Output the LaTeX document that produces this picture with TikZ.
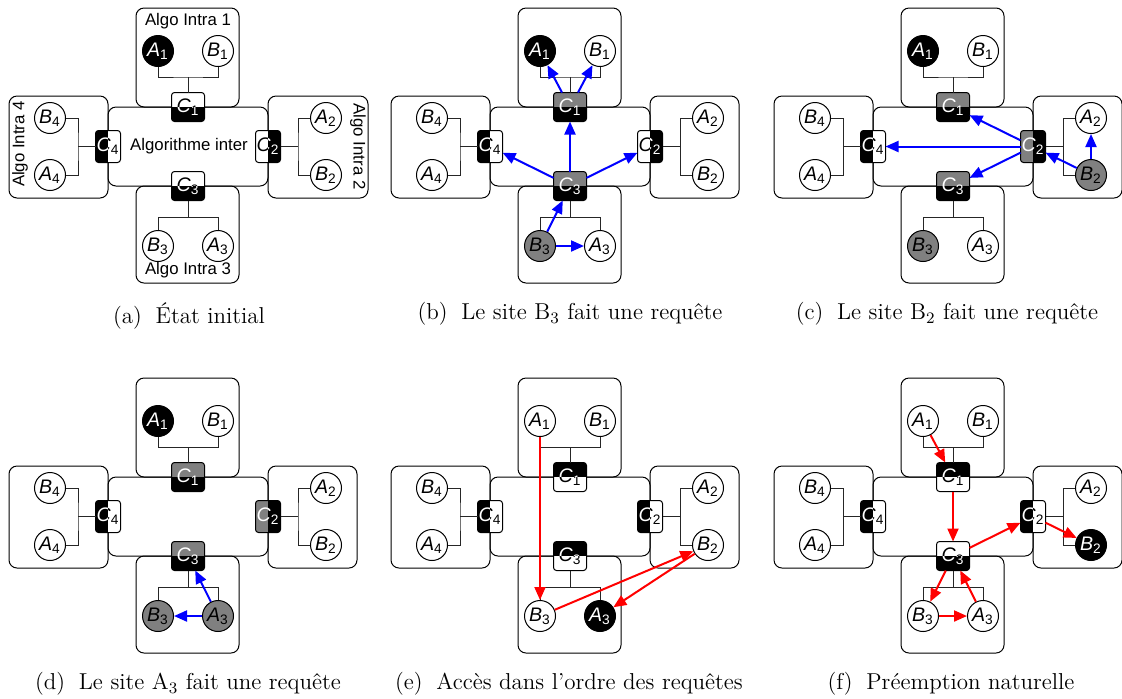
\documentclass[tikz,border=0pt]{standalone}
\usepackage{fontspec}
\newfontfamily\hv{Liberation Sans}
\usetikzlibrary{arrows.meta}
\newcommand\slab[2]{\textit{#1}\textsubscript{#2}}
\tikzset{
 box/.style={draw, line width=0.5pt, rounded corners=4pt},
 site/.style={circle, draw, line width=0.5pt, minimum size=15.5pt, inner sep=0pt, font=\hv\fontsize{9.8}{11}\selectfont},
 sw/.style={site, fill=white, text=black},
 sb/.style={site, fill=black, text=white},
 sg/.style={site, fill=black!50, text=black},
 wire/.style={line width=0.5pt, draw=black!85},
 cv/.style={rectangle, minimum width=16.5pt, minimum height=14.5pt, inner sep=0pt, outer sep=0pt},
 ch/.style={rectangle, minimum width=12.5pt, minimum height=16pt, inner sep=0pt, outer sep=0pt},
 ctext/.style={inner sep=0pt, font=\hv\fontsize{9.8}{11}\selectfont},
 cframe/.style={draw, line width=0.5pt, rounded corners=1.5pt},
 lab/.style={font=\hv\fontsize{8.4}{10}\selectfont, inner sep=0pt},
 blu/.style={draw=blue, line width=1pt, -{Triangle[length=6.5pt,width=5.5pt]}},
 rd/.style={draw=red, line width=1pt, -{Triangle[length=6.5pt,width=5.5pt]}},
 capt/.style={font=\fontsize{11.5}{13}\selectfont, inner sep=0pt},
}
% skeleton: prefix, styles of A1 B1 A2 B2 A3 B3 A4 B4
\newcommand\skel[9]{%
 \draw[box] (108,107) rectangle (268,186);
 \draw[box] (136,8) rectangle (239,107);
 \draw[box] (136,186) rectangle (239,283);
 \draw[box] (9,96) rectangle (108,198);
 \draw[box] (268,96) rectangle (\irr,198);
 \node[#2] (#1A1) at (158,51) {\slab{A}{1}};
 \node[#3] (#1B1) at (218,51) {\slab{B}{1}};
 \node[#4] (#1A2) at (326,118) {\slab{A}{2}};
 \node[#5] (#1B2) at (326,175) {\slab{B}{2}};
 \node[#6] (#1A3) at (218,246) {\slab{A}{3}};
 \node[#7] (#1B3) at (158,246) {\slab{B}{3}};
 \node[#8] (#1A4) at (50,175) {\slab{A}{4}};
 \node[#9] (#1B4) at (50,118) {\slab{B}{4}};
 \coordinate (#1j1) at (188,77);
 \coordinate (#1j2) at (298,146.5);
 \coordinate (#1j3) at (188,217);
 \coordinate (#1j4) at (78,146.5);
 \draw[wire] (#1A1.south) |- (#1j1) -| (#1B1.south);
 \draw[wire] (#1A2.west) -| (#1j2) |- (#1B2.west);
 \draw[wire] (#1B3.north) |- (#1j3) -| (#1A3.north);
 \draw[wire] (#1B4.east) -| (#1j4) |- (#1A4.east);
}
\newcommand\links[1]{%
 \draw[wire] (#1j1) -- (#1C1.north);
 \draw[wire] (#1j2) -- (#1C2.east);
 \draw[wire] (#1j3) -- (#1C3.south);
 \draw[wire] (#1j4) -- (#1C4.west);
}
% name, pos, fill top, text top, fill bottom, text bottom, digit
\newcommand\cboxv[7]{%
 \node[cv] (#1) at #2 {};
 \begin{scope}
  \clip (#1.north west) rectangle (#1.east);
  \fill[#3, rounded corners=1.5pt] (#1.north west) rectangle (#1.south east);
  \node[ctext, text=#4] (#1t) at (#1.center) {\slab{C}{#7}};
 \end{scope}
 \begin{scope}
  \clip (#1.west) rectangle (#1.south east);
  \fill[#5, rounded corners=1.5pt] (#1.north west) rectangle (#1.south east);
  \node[ctext, text=#6] (#1u) at (#1.center) {\slab{C}{#7}};
 \end{scope}
 \draw[cframe] (#1.north west) rectangle (#1.south east);
}
% name, pos, fill left, text left, fill right, text right, digit
\newcommand\cboxh[7]{%
 \node[ch] (#1) at #2 {};
 \begin{scope}
  \clip (#1.north west) rectangle (#1.south);
  \fill[#3, rounded corners=1.5pt] (#1.north west) rectangle (#1.south east);
  \node[ctext, text=#4] (#1t) at (#1.center) {\slab{C}{#7}};
 \end{scope}
 \begin{scope}
  \clip (#1.north) rectangle (#1.south east);
  \fill[#5, rounded corners=1.5pt] (#1.north west) rectangle (#1.south east);
  \node[ctext, text=#6] (#1u) at (#1.center) {\slab{C}{#7}};
 \end{scope}
 \draw[cframe] (#1.north west) rectangle (#1.south east);
}
\begin{document}
\begin{tikzpicture}[x=0.5pt,y=-0.5pt]
\useasboundingbox (0,0) rectangle (1122,698);
% ---------- (a)
\def\irr{368}
\begin{scope}
 \skel{a}{sb}{sw}{sw}{sw}{sw}{sw}{sw}{sw}
 \cboxv{aC1}{(188,107)}{white}{black}{black}{white}{1}
 \cboxh{aC2}{(268,146.5)}{white}{black}{black}{white}{2}
 \cboxv{aC3}{(188,186)}{white}{black}{black}{white}{3}
 \cboxh{aC4}{(108,146.5)}{black}{white}{white}{black}{4}
 \links{a}
 \node[lab] (lab1) at (188,21) {Algo Intra 1};
 \node[lab, rotate=-90] (lab2) at (358,146.5) {Algo Intra 2};
 \node[lab] (lab3) at (188,270) {Algo Intra 3};
 \node[lab, rotate=90] (lab4) at (20,144) {Algo Intra 4};
 \node[lab] (labI) at (189,146.5) {Algorithme inter};
\end{scope}
\def\irr{357}
% ---------- (b)
\begin{scope}[shift={(382,0)}]
 \skel{b}{sb}{sw}{sw}{sw}{sw}{sg}{sw}{sw}
 \cboxv{bC1}{(188,107)}{black!50}{white}{black}{white}{1}
 \cboxh{bC2}{(268,146.5)}{white}{black}{black}{white}{2}
 \cboxv{bC3}{(188,186)}{black!50}{white}{black}{white}{3}
 \cboxh{bC4}{(108,146.5)}{black}{white}{white}{black}{4}
 \links{b}
 \draw[blu] ([xshift=-4pt]bC1.north) -- (bA1);
 \draw[blu] ([xshift=4pt]bC1.north) -- (bB1);
 \draw[blu] (bC3) -- (bC1);
 \draw[blu] (bC3) -- (bC4);
 \draw[blu] (bC3) -- (bC2);
 \draw[blu] (bB3) -- (bC3);
 \draw[blu] (bB3) -- (bA3);
\end{scope}
% ---------- (c)
\begin{scope}[shift={(765,0)}]
 \skel{c}{sb}{sw}{sw}{sg}{sw}{sg}{sw}{sw}
 \cboxv{cC1}{(188,107)}{black!50}{white}{black}{white}{1}
 \cboxh{cC2}{(268,146.5)}{black!50}{white}{black}{white}{2}
 \cboxv{cC3}{(188,186)}{black!50}{white}{black}{white}{3}
 \cboxh{cC4}{(108,146.5)}{black}{white}{white}{black}{4}
 \links{c}
 \draw[blu] (cB2) -- (cC2);
 \draw[blu] (cB2) -- (cA2);
 \draw[blu] (cC2) -- (cC1);
 \draw[blu] (cC2) -- (cC4);
 \draw[blu] (cC2) -- (cC3);
\end{scope}
% ---------- (d)
\begin{scope}[shift={(0,370)}]
 \skel{d}{sb}{sw}{sw}{sw}{sg}{sg}{sw}{sw}
 \cboxv{dC1}{(188,107)}{black!50}{white}{black}{white}{1}
 \cboxh{dC2}{(268,146.5)}{black!50}{white}{black}{white}{2}
 \cboxv{dC3}{(188,186)}{black!50}{white}{black}{white}{3}
 \cboxh{dC4}{(108,146.5)}{black}{white}{white}{black}{4}
 \links{d}
 \draw[blu] (dA3) -- (dC3);
 \draw[blu] (dA3) -- (dB3);
\end{scope}
% ---------- (e)
\begin{scope}[shift={(382,370)}]
 \skel{e}{sw}{sw}{sw}{sw}{sb}{sw}{sw}{sw}
 \cboxv{eC1}{(188,107)}{black}{white}{white}{black}{1}
 \cboxh{eC2}{(268,146.5)}{black}{white}{white}{black}{2}
 \cboxv{eC3}{(188,186)}{black}{white}{white}{black}{3}
 \cboxh{eC4}{(108,146.5)}{black}{white}{white}{black}{4}
 \links{e}
 \draw[rd] (eA1) -- (eB3);
 \draw[rd] (eB3) -- (eB2);
 \draw[rd] (eB2) -- (eA3);
\end{scope}
% ---------- (f)
\begin{scope}[shift={(765,370)}]
 \skel{f}{sw}{sw}{sw}{sb}{sw}{sw}{sw}{sw}
 \cboxv{fC1}{(188,107)}{black}{white}{white}{black}{1}
 \cboxh{fC2}{(268,146.5)}{black}{white}{white}{black}{2}
 \cboxv{fC3}{(188,186)}{white}{black}{black}{white}{3}
 \cboxh{fC4}{(108,146.5)}{black}{white}{white}{black}{4}
 \links{f}
 \draw[rd] (fA1) -- (fC1);
 \draw[rd] (fC1) -- (fC3);
 \draw[rd] (fC3) -- (fC2);
 \draw[rd] (fC2) -- (fB2);
 \draw[rd] (fC3) -- (fB3);
 \draw[rd] (fA3) -- (fC3);
 \draw[rd] (fB3) -- (fA3);
\end{scope}
% ---------- captions
\node[capt] (capa) at (189,316) {(a)\hspace{0.6em}État initial};
\node[capt] (capb) at (570,314) {(b)\hspace{0.6em}Le site B$_3$ fait une requête};
\node[capt] (capc) at (947,314) {(c)\hspace{0.6em}Le site B$_2$ fait une requête};
\node[capt] (capd) at (188,684) {(d)\hspace{0.6em}Le site A$_3$ fait une requête};
\node[capt] (cape) at (569,684) {(e)\hspace{0.6em}Accès dans l'ordre des requêtes};
\node[capt] (capf) at (951,684) {(f)\hspace{0.6em}Préemption naturelle};
\end{tikzpicture}
\end{document}
